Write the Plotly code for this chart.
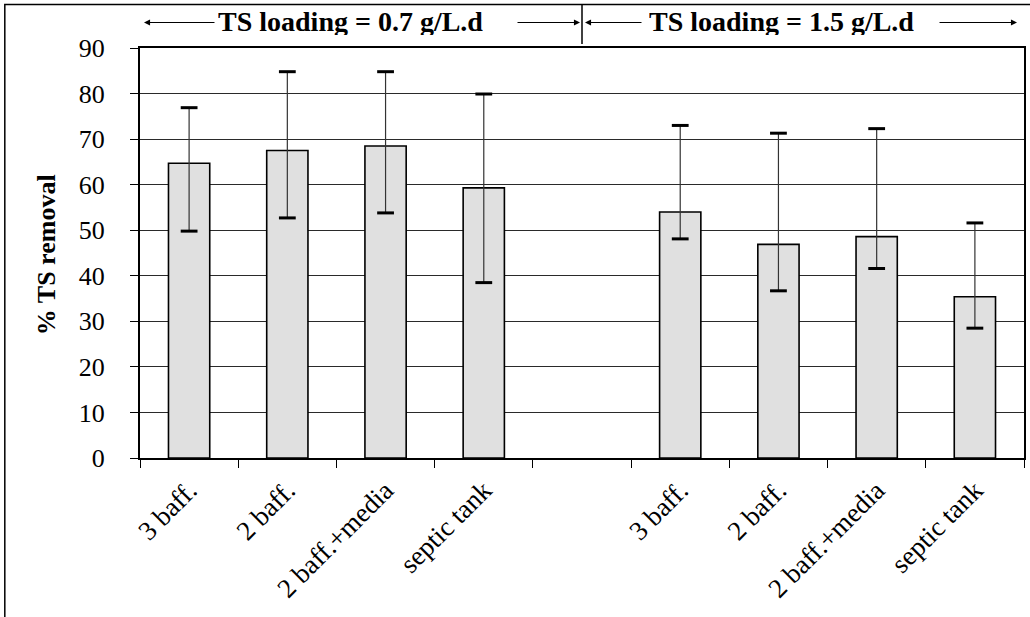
import plotly.graph_objects as go

# Reactor configurations (same set at both loading rates)
units = ["3 baff.", "2 baff.", "2 baff.+media", "septic tank"]

# % TS removal at TS loading = 0.7 g/L.d : mean, upper and lower limits
mean_07 = [64.7, 67.5, 68.5, 59.3]
high_07 = [76.9, 84.8, 84.8, 79.9]
low_07 = [49.8, 52.7, 53.8, 38.5]

# % TS removal at TS loading = 1.5 g/L.d : mean, upper and lower limits
mean_15 = [54.0, 46.9, 48.6, 35.4]
high_15 = [73.0, 71.3, 72.3, 51.6]
low_15 = [48.1, 36.7, 41.6, 28.5]

group_titles = ["TS loading = 0.7 g/L.d", "TS loading = 1.5 g/L.d"]

# one empty slot separates the two loading groups on the category axis
slots = [f"a{i}" for i in range(4)] + ["gap"] + [f"b{i}" for i in range(4)]
tick_text = units + [""] + units
bar_slots = slots[:4] + slots[5:]
means = mean_07 + mean_15
highs = high_07 + high_15
lows = low_07 + low_15

W, H = 1030, 617
L, R, T, B = 140, 4, 48, 159
PW, PH = W - L - R, H - T - B


def px(xp):
    return (xp - L) / PW


def py(yp):
    return (H - B - yp) / PH


FONT = "Liberation Serif, Times New Roman, serif"

fig = go.Figure()

fig.add_trace(go.Bar(
    x=bar_slots, y=means, width=0.42,
    marker=dict(color="#e0e0e0", line=dict(color="black", width=1.6)),
    error_y=dict(type="data", symmetric=False,
                 array=[h - m for h, m in zip(highs, means)],
                 arrayminus=[m - l for m, l in zip(means, lows)],
                 color="#333333", thickness=1.2, width=0),
    showlegend=False, hoverinfo="skip",
))

# heavy caps on the error bars
fig.add_trace(go.Scatter(
    x=bar_slots + bar_slots, y=highs + lows, mode="markers",
    marker=dict(symbol="line-ew", size=12, line=dict(color="black", width=3)),
    showlegend=False, hoverinfo="skip",
))

fig.update_xaxes(
    type="category", categoryorder="array", categoryarray=slots,
    range=[-0.5, len(slots) - 0.5],
    tickmode="array", tickvals=slots, ticktext=tick_text,
    tickson="boundaries", ticks="outside", ticklen=8, tickwidth=1, tickcolor="black",
    tickangle=-45, tickfont=dict(family=FONT, size=27, color="black"),
    ticklabelstandoff=4,
    showline=True, linecolor="black", linewidth=1.6, mirror=True,
    showgrid=False,
)
fig.update_yaxes(
    range=[0, 90], dtick=10, ticks="outside", ticklen=8, tickwidth=1, tickcolor="black",
    tickfont=dict(family=FONT, size=26, color="black"), ticklabelstandoff=20,
    showline=True, linecolor="black", linewidth=2, mirror=True,
    showgrid=True, gridcolor="#2a2a2a", gridwidth=1, zeroline=False,
)

annotations = [
    dict(text="<b>% TS removal</b>", xref="paper", yref="paper",
         x=px(46), y=py(255), xanchor="center", yanchor="middle",
         textangle=-90, showarrow=False,
         font=dict(family=FONT, size=26, color="black")),
]

# group headings above the plot, clipped at the bottom of their text boxes
for title, cx in zip(group_titles, [351, 783]):
    annotations.append(dict(
        text=f"<b>{title}</b>", xref="paper", yref="paper",
        x=px(cx), y=py(37), xanchor="center", yanchor="bottom",
        height=29, valign="top", showarrow=False,
        font=dict(family=FONT, size=28, color="black")))

# arrows spanning each group: (tail, head) in pixels
for tail, head in [(216, 144), (517, 581), (644, 586), (940, 1019)]:
    annotations.append(dict(
        text="", xref="paper", yref="paper", x=px(head), y=py(22.5),
        ax=tail - head, ay=0, showarrow=True,
        arrowhead=2, arrowsize=1.1, arrowwidth=1.1, arrowcolor="black"))

shapes = [
    # divider between the two loading groups
    dict(type="line", xref="paper", yref="paper",
         x0=px(583), x1=px(583), y0=py(4), y1=py(44),
         line=dict(color="black", width=1.5)),
    # outer frame of the figure
    dict(type="rect", xref="paper", yref="paper",
         x0=px(4.5), x1=px(1045), y0=py(640), y1=py(4.5),
         line=dict(color="black", width=1.5)),
]

fig.update_layout(
    width=W, height=H,
    margin=dict(l=L, r=R, t=T, b=B),
    paper_bgcolor="white", plot_bgcolor="white",
    bargap=0.58,
    annotations=annotations, shapes=shapes,
    font=dict(family=FONT, color="black"),
)

fig.write_html("out.html")
